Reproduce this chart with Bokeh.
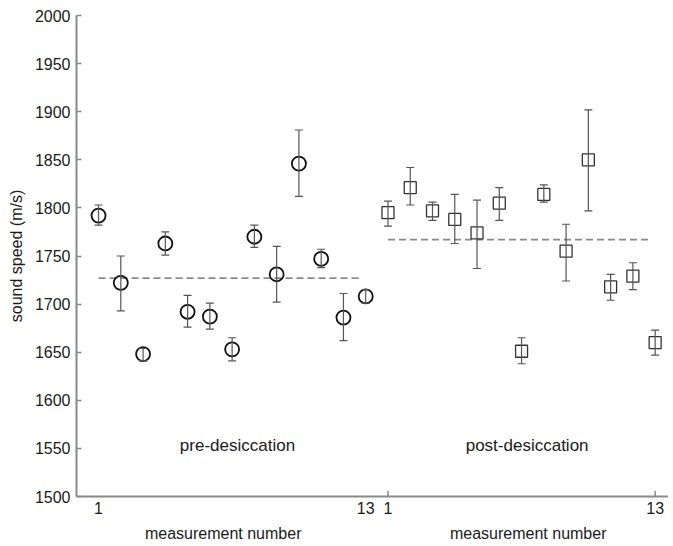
from bokeh.plotting import figure
from bokeh.models import ColumnDataSource, Whisker, Label, FixedTicker, Range1d, LinearAxis
from bokeh.embed import file_html
from bokeh.resources import INLINE

# ---- data ----
pre_measurement = [1, 2, 3, 4, 5, 6, 7, 8, 9, 10, 11, 12, 13]
pre_speed = [1792, 1722, 1648, 1763, 1692, 1687, 1653, 1770, 1731, 1846, 1747, 1686, 1708]
pre_upper = [1803, 1750, 1654, 1775, 1709, 1701, 1665, 1782, 1760, 1881, 1757, 1711, 1715]
pre_lower = [1782, 1693, 1641, 1751, 1676, 1674, 1641, 1759, 1702, 1812, 1738, 1662, 1701]
pre_mean = 1727

post_measurement = [1, 2, 3, 4, 5, 6, 7, 8, 9, 10, 11, 12, 13]
post_speed = [1795, 1821, 1797, 1788, 1774, 1805, 1651, 1814, 1755, 1850, 1718, 1729, 1660]
post_upper = [1807, 1842, 1806, 1814, 1808, 1821, 1665, 1824, 1783, 1902, 1731, 1743, 1673]
post_lower = [1781, 1803, 1787, 1763, 1737, 1787, 1638, 1806, 1724, 1797, 1704, 1715, 1647]
post_mean = 1767

x_tick_labels = ["1", "13", "1", "13"]
group_names = ["pre-desiccation", "post-desiccation"]
x_title = "measurement number"
y_title = "sound speed (m/s)"
y_ticks = [1500, 1550, 1600, 1650, 1700, 1750, 1800, 1850, 1900, 1950, 2000]

offset = len(pre_measurement)  # post series placed after the pre series
pre_x = list(pre_measurement)
post_x = [m + offset for m in post_measurement]
tick_pos = [pre_x[0], pre_x[-1], post_x[0], post_x[-1]]
title_pos = [6.6, 20.3]

FONT = "Liberation Sans"
AXIS_COLOR = "#8a8a8a"
TEXT_COLOR = "#1a1a1a"

p = figure(width=668, height=544, output_backend="svg", toolbar_location=None,
           x_range=Range1d(0.01, 26.6), y_range=Range1d(1500, 2000),
           min_border_left=76, min_border_right=0, min_border_top=15, min_border_bottom=10)
p.outline_line_color = None
p.grid.visible = False
p.background_fill_color = "white"

# axes
xa = p.xaxis[0]
xa.ticker = FixedTicker(ticks=tick_pos)
xa.major_label_overrides = {t: l for t, l in zip(tick_pos, x_tick_labels)}
xa.major_tick_line_color = None
xa.major_tick_in = 0
xa.major_tick_out = 0
xa.minor_tick_line_color = None
xa.axis_line_color = AXIS_COLOR
xa.axis_line_width = 2
xa.major_label_text_font = FONT
xa.major_label_text_font_size = "16px"
xa.major_label_text_color = TEXT_COLOR
xa.major_label_standoff = 5

# second row below: one axis title per group
xt = LinearAxis(ticker=FixedTicker(ticks=title_pos),
                major_label_overrides={t: x_title for t in title_pos})
xt.axis_line_color = None
xt.major_tick_line_color = None
xt.minor_tick_line_color = None
xt.major_tick_in = 0
xt.major_tick_out = 0
xt.major_label_text_font = FONT
xt.major_label_text_font_size = "16px"
xt.major_label_text_color = TEXT_COLOR
xt.major_label_standoff = 8
p.add_layout(xt, "below")

ya = p.yaxis[0]
ya.ticker = FixedTicker(ticks=y_ticks)
ya.minor_tick_line_color = None
ya.major_tick_in = 5
ya.major_tick_out = 0
ya.major_tick_line_color = AXIS_COLOR
ya.major_tick_line_width = 1.5
ya.axis_line_color = AXIS_COLOR
ya.axis_line_width = 2
ya.major_label_text_font = FONT
ya.major_label_text_font_size = "16px"
ya.major_label_text_color = TEXT_COLOR
ya.major_label_standoff = 6
ya.axis_label = y_title
ya.axis_label_text_font = FONT
ya.axis_label_text_font_size = "16px"
ya.axis_label_text_font_style = "normal"
ya.axis_label_text_color = TEXT_COLOR
ya.axis_label_standoff = 7

# inward ticks on the post-desiccation positions only
p.segment(x0=[post_x[0], post_x[-1]], y0=[1500, 1500],
          x1=[post_x[0], post_x[-1]], y1=[1506, 1506],
          line_color=AXIS_COLOR, line_width=1.5)

# mean lines
p.line([pre_x[0], pre_x[-1] - 0.3], [pre_mean, pre_mean], line_color="#8a8a8a",
       line_width=1.6, line_dash="7 4")
p.line([post_x[0], post_x[-1] - 0.2], [post_mean, post_mean], line_color="#8a8a8a",
       line_width=1.6, line_dash="7 4")

pre_src = ColumnDataSource(dict(x=pre_x, y=pre_speed, upper=pre_upper, lower=pre_lower))
post_src = ColumnDataSource(dict(x=post_x, y=post_speed, upper=post_upper, lower=post_lower))

for src in (pre_src, post_src):
    w = Whisker(source=src, base="x", upper="upper", lower="lower", dimension="height",
                line_color="#555555", line_width=1.2, level="glyph")
    w.upper_head.size = 8
    w.lower_head.size = 8
    w.upper_head.line_color = "#555555"
    w.lower_head.line_color = "#555555"
    w.upper_head.line_width = 1.2
    w.lower_head.line_width = 1.2
    p.add_layout(w)

p.scatter("x", "y", source=pre_src, marker="circle", size=14, fill_color=None,
          line_color="#111111", line_width=1.8)
p.scatter("x", "y", source=post_src, marker="square", size=12, fill_color=None,
          line_color="#333333", line_width=1.3)

# group names
p.add_layout(Label(x=7.24, y=1553, text=group_names[0], text_align="center",
                   text_baseline="middle", text_font=FONT, text_font_size="17px",
                   text_color=TEXT_COLOR))
p.add_layout(Label(x=20.25, y=1553, text=group_names[1], text_align="center",
                   text_baseline="middle", text_font=FONT, text_font_size="17px",
                   text_color=TEXT_COLOR))

open("out.html", "w").write(file_html(p, INLINE))
